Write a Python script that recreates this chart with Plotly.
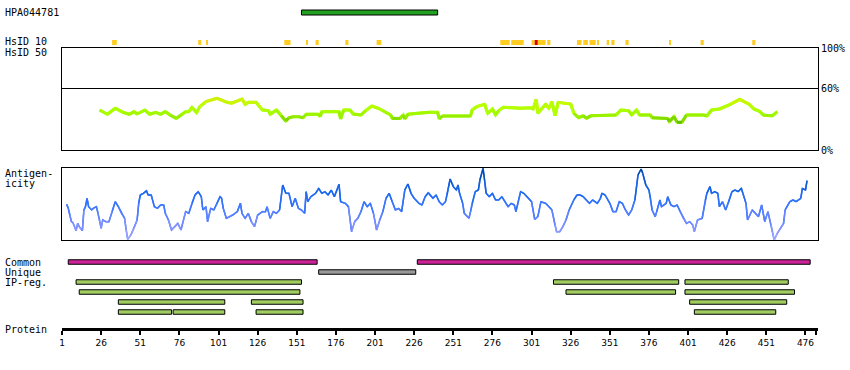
import plotly.graph_objects as go

# ---------------- data ----------------
protein_length = 483
tick_vals = [1, 26, 51, 76, 101, 126, 151, 176, 201, 226, 251, 276, 301, 326, 351, 376, 401, 426, 451, 476]

antibody_name = "HPA044781"
antibody_start = [154]
antibody_end = [241]

hsid10_start = [33, 88, 93, 143, 157, 163, 182, 202, 281, 288, 301, 303, 305, 311, 330, 334, 338, 343, 349, 352, 361, 389, 409, 442]
hsid10_end = [36, 90, 94, 147, 158, 165, 184, 205, 287, 296, 303, 305, 310, 313, 333, 337, 342, 344, 350.5, 354, 363, 390, 411, 444]
hsid10_level = ["y", "y", "y", "y", "y", "y", "y", "y", "y", "y", "y", "r", "y", "y", "y", "y", "y", "y", "y", "y", "y", "y", "y", "y"]

cons_pos = [25, 30, 35, 40, 44, 47, 49, 54, 57, 61,
            64, 67, 70, 74, 77, 80, 82, 84, 87, 89,
            93, 100, 103, 105, 109, 113, 116, 118, 120, 125,
            129, 133, 134, 138, 141, 144, 146, 149, 152, 155,
            157, 165, 166, 167, 178, 179, 181, 185, 187, 192,
            195, 199, 203, 206, 211, 212, 217, 219, 220, 222,
            228, 236, 241, 242, 244, 262, 263, 266, 271, 273,
            276, 278, 280, 283, 294, 300, 302, 304, 305, 310,
            312, 314, 316, 318, 326, 328, 331, 334, 336, 339,
            355, 358, 363, 365, 368, 370, 377, 378, 388, 389,
            392, 394, 397, 400, 411, 413, 416, 421, 428, 434,
            440, 443, 447, 449, 453, 455, 458]
cons_val = [39.2, 35.0, 40.9, 36.9, 35.0, 37.6, 35.3, 39.2, 35.0, 36.9,
            35.0, 37.6, 34.3, 31.0, 34.3, 37.6, 37.6, 41.8, 36.6, 42.5,
            47.4, 50.7, 49.0, 47.4, 45.8, 48.0, 50.0, 44.8, 46.7, 46.7,
            39.2, 38.6, 35.0, 39.2, 33.7, 28.4, 31.7, 32.7, 32.7, 31.7,
            35.0, 35.0, 32.7, 37.6, 37.6, 30.4, 39.2, 39.2, 35.3, 34.3,
            38.6, 43.1, 40.9, 38.6, 34.3, 31.0, 31.0, 34.3, 30.4, 35.0,
            36.0, 36.9, 36.9, 30.4, 33.3, 33.3, 39.2, 42.5, 44.8, 36.0,
            40.2, 34.3, 38.6, 41.8, 40.9, 41.5, 40.2, 49.7, 36.0, 44.8,
            40.9, 47.4, 33.7, 46.7, 45.1, 36.0, 31.7, 33.7, 31.0, 33.7,
            34.3, 39.2, 38.6, 34.3, 39.2, 34.3, 34.3, 31.7, 31.0, 27.8,
            32.7, 27.1, 27.1, 34.3, 34.3, 33.3, 39.2, 40.2, 44.8, 49.7,
            44.8, 40.2, 37.6, 34.3, 33.7, 33.7, 37.6]

antigen_pos = [4, 5, 6, 7, 8, 10, 11, 12, 14, 15,
               16, 17, 18, 20, 21, 23, 24, 25, 26, 27,
               29, 31, 33, 35, 37, 39, 41, 42, 43, 45,
               47, 49, 50, 51, 53, 55, 56, 58, 60, 62,
               64, 66, 67, 69, 71, 73, 75, 77, 80, 82,
               84, 86, 88, 90, 91, 93, 94, 96, 98, 100,
               102, 103, 104, 106, 108, 110, 113, 115, 116, 118,
               120, 122, 124, 126, 129, 131, 132, 134, 136, 138,
               140, 142, 144, 146, 148, 150, 152, 154, 156, 157,
               158, 160, 163, 165, 167, 169, 171, 173, 175, 178,
               179, 182, 184, 186, 188, 190, 192, 194, 196, 198,
               200, 202, 204, 206, 208, 210, 212, 214, 216, 218,
               220, 222, 224, 226, 229, 231, 233, 235, 238, 240,
               242, 244, 246, 247, 248, 249, 251, 253, 254, 255,
               257, 258, 261, 262, 263, 265, 267, 268, 270, 271,
               272, 274, 276, 278, 280, 282, 284, 286, 288, 290,
               291, 294, 296, 299, 301, 303, 305, 307, 310, 313,
               314, 316, 317, 319, 321, 323, 325, 328, 330, 332,
               334, 336, 338, 340, 343, 345, 346, 348, 351, 353,
               355, 357, 359, 361, 363, 365, 367, 369, 371, 372,
               374, 376, 377, 378, 380, 381, 383, 384, 387, 388,
               390, 392, 394, 396, 398, 400, 402, 404, 405, 407,
               410, 412, 413, 415, 416, 418, 420, 421, 423, 425,
               427, 429, 431, 433, 435, 436, 438, 439, 442, 444,
               446, 448, 450, 452, 454, 455, 456, 458, 460, 462,
               463, 466, 468, 470, 473, 474, 476, 477]
antigen_val = [49.5, 44.0, 34.7, 25.5, 24.1, 13.0, 23.1, 18.5, 13.0, 41.7,
               46.3, 57.9, 46.3, 41.7, 44.0, 46.3, 37.0, 27.8, 16.2, 27.8,
               25.5, 25.5, 39.4, 53.2, 46.3, 37.0, 30.1, 13.9, 0.9, 7.0,
               16.2, 27.8, 50.9, 62.5, 64.8, 68.5, 62.5, 62.5, 46.3, 44.0,
               48.6, 48.6, 37.0, 27.8, 13.9, 18.5, 23.1, 13.9, 39.4, 37.0,
               50.9, 62.5, 67.1, 60.2, 41.7, 46.3, 25.5, 44.0, 41.7, 50.9,
               60.2, 57.9, 44.0, 30.1, 32.4, 34.7, 39.4, 50.9, 37.0, 30.1,
               37.0, 25.5, 18.5, 34.7, 39.4, 39.4, 46.3, 30.1, 39.4, 37.0,
               41.7, 76.4, 64.8, 64.8, 46.3, 57.9, 44.0, 41.7, 37.0, 67.1,
               53.2, 60.2, 64.8, 71.8, 64.8, 67.1, 62.5, 69.4, 60.2, 77.3,
               53.2, 50.9, 46.3, 11.6, 25.5, 30.1, 39.4, 53.2, 46.3, 50.9,
               37.0, 13.9, 27.8, 39.4, 57.9, 64.8, 53.2, 41.7, 44.0, 39.4,
               69.4, 77.8, 64.8, 57.9, 50.9, 48.6, 60.2, 65.7, 57.9, 62.5,
               53.2, 48.6, 53.2, 62.5, 74.1, 84.7, 74.1, 69.4, 76.4, 64.8,
               50.9, 37.0, 30.1, 39.4, 50.9, 67.1, 69.4, 83.3, 99.5, 83.3,
               64.8, 60.2, 64.8, 55.6, 55.6, 60.2, 53.2, 46.3, 50.9, 48.6,
               39.4, 67.1, 64.8, 57.9, 53.2, 28.7, 32.4, 53.2, 50.9, 44.0,
               41.7, 20.8, 11.6, 11.6, 18.5, 27.8, 41.7, 55.6, 62.5, 62.5,
               60.2, 55.6, 50.9, 55.6, 50.9, 57.9, 64.8, 62.5, 50.9, 39.4,
               39.4, 53.2, 50.9, 41.7, 34.7, 41.7, 55.6, 90.3, 98.6, 92.6,
               76.4, 69.4, 57.9, 41.7, 32.4, 39.4, 55.6, 46.3, 50.9, 60.2,
               48.6, 46.3, 48.6, 39.4, 30.1, 23.1, 25.5, 20.8, 11.6, 27.8,
               30.1, 55.6, 64.8, 74.1, 64.8, 67.1, 64.8, 46.3, 53.2, 41.7,
               53.2, 67.1, 69.4, 67.1, 71.8, 64.8, 50.9, 27.8, 41.7, 37.0,
               32.4, 48.6, 25.5, 39.4, 20.8, 11.6, 0.0, 9.3, 16.2, 23.1,
               41.7, 53.2, 55.6, 53.2, 57.9, 71.8, 69.4, 82.4]

common_start = [5, 228]
common_end = [164, 479]
unique_start = [165]
unique_end = [227]
ipreg_start = [10, 315, 399, 12, 323, 399, 37, 122, 402, 37, 72, 125, 405]
ipreg_end = [154, 395, 465, 153, 393, 469, 105, 155, 464, 71, 105, 155, 457]
ipreg_lane = [0, 0, 0, 1, 1, 1, 2, 2, 2, 3, 3, 3, 3]

track_labels = ["HPA044781", "HsID 10", "HsID 50", "Antigen-", "icity", "Common", "Unique", "IP-reg.", "Protein"]

assert len(cons_pos) == len(cons_val)
assert len(antigen_pos) == len(antigen_val)

# ---------------- layout constants (pixels) ----------------
W, H = 850, 370
PX0, PX1 = 62, 818
ROW_AB = 12.5
ROW_HSID = 42.5
CONS_TOP, CONS_BOT = 48, 150
ANT_TOP, ANT_BOT = 168, 240
ROW_COMMON = 262
ROW_UNIQUE = 272
ROW_IP0 = 282
AXIS_Y = 329
label_y = [13, 42, 52, 173, 183, 262, 272, 282, 329]
FONT = "DejaVu Sans Mono"


def pf(p):
    return 1 - p / H


def ramp(v, stops):
    if v <= stops[0][0]:
        return stops[0][1]
    for i in range(len(stops) - 1):
        v0, c0 = stops[i]
        v1, c1 = stops[i + 1]
        if v <= v1:
            t = (v - v0) / (v1 - v0)
            return tuple(round(c0[k] + (c1[k] - c0[k]) * t) for k in range(3))
    return stops[-1][1]


def colored_segments(xs, ys, stops, q):
    groups = {}
    for i in range(len(xs) - 1):
        m = (ys[i] + ys[i + 1]) / 2
        key = round(m / q) * q
        c = "rgb(%d,%d,%d)" % ramp(key, stops)
        gx, gy = groups.setdefault(c, ([], []))
        gx += [xs[i], xs[i + 1], None]
        gy += [ys[i], ys[i + 1], None]
    return groups


cons_stops = [(27, (100, 190, 0)), (33, (150, 238, 0)), (38, (170, 255, 0)), (44, (190, 255, 0)), (50, (215, 238, 10))]
ant_stops = [(0, (175, 170, 255)), (25, (125, 140, 255)), (45, (65, 120, 255)), (65, (25, 105, 240)), (100, (0, 70, 160))]

fig = go.Figure()

# conservation line
fig.add_trace(go.Scatter(x=cons_pos, y=cons_val, mode="lines", xaxis="x2", yaxis="y",
                         line=dict(color="rgb(170,255,0)", width=3), hoverinfo="skip"))
for c, (gx, gy) in colored_segments(cons_pos, cons_val, cons_stops, 1).items():
    fig.add_trace(go.Scatter(x=gx, y=gy, mode="lines", xaxis="x2", yaxis="y",
                             line=dict(color=c, width=3), hoverinfo="skip"))

# antigenicity line
fig.add_trace(go.Scatter(x=antigen_pos, y=antigen_val, mode="lines", xaxis="x3", yaxis="y2",
                         line=dict(color="rgb(60,120,255)", width=1.5), hoverinfo="skip"))
for c, (gx, gy) in colored_segments(antigen_pos, antigen_val, ant_stops, 2).items():
    fig.add_trace(go.Scatter(x=gx, y=gy, mode="lines", xaxis="x3", yaxis="y2",
                             line=dict(color=c, width=1.5), hoverinfo="skip"))


def add_bars(starts, ends, rows, color, height, outline):
    fig.add_trace(go.Bar(orientation="h", base=starts, x=[e - s for s, e in zip(starts, ends)], y=rows,
                         width=height, xaxis="x", yaxis="y3",
                         marker=dict(color=color, line=dict(color="black", width=outline)),
                         hoverinfo="skip"))


add_bars(antibody_start, antibody_end, [ROW_AB] * len(antibody_start), "#22a022", 5, 1)
hs_col = ["#dd0000" if l == "r" else "#ffcc22" for l in hsid10_level]
add_bars(hsid10_start, hsid10_end, [ROW_HSID] * len(hsid10_start), hs_col, 5, 0)
add_bars(common_start, common_end, [ROW_COMMON] * len(common_start), "#cc2299", 4.5, 1)
add_bars(unique_start, unique_end, [ROW_UNIQUE] * len(unique_start), "#999999", 4.5, 1)
add_bars(ipreg_start, ipreg_end, [ROW_IP0 + 10 * l for l in ipreg_lane], "#a0cc60", 4.5, 1)

annotations = []
for t, y in zip(track_labels, label_y):
    annotations.append(dict(text=t, x=3 / W, y=pf(y), xref="paper", yref="paper", xanchor="left",
                            yanchor="middle", showarrow=False, font=dict(family=FONT, size=10, color="black")))

dom_x = [PX0 / W, PX1 / W]
fig.update_layout(
    width=W, height=H, autosize=False, margin=dict(l=0, r=0, t=0, b=0, pad=0, autoexpand=False),
    paper_bgcolor="white", plot_bgcolor="rgba(0,0,0,0)", showlegend=False, barmode="overlay",
    annotations=annotations,
    xaxis=dict(domain=dom_x, range=[1, 484], anchor="free", position=pf(AXIS_Y),
               showline=True, linewidth=3, linecolor="black", ticks="outside", ticklen=4, tickwidth=2,
               tickcolor="black", tickvals=tick_vals + [protein_length],
               ticktext=[str(v) for v in tick_vals] + [""],
               tickfont=dict(family="DejaVu Sans", size=9, color="black"),
               showgrid=False, zeroline=False, fixedrange=True, automargin=False),
    yaxis3=dict(domain=[0, 1], range=[H, 0], visible=False, anchor="x", fixedrange=True, automargin=False),
    xaxis2=dict(domain=dom_x, matches="x", anchor="y", showline=True, mirror=True, linecolor="black",
                linewidth=1, showticklabels=False, ticks="", showgrid=False, zeroline=False, automargin=False),
    yaxis=dict(domain=[pf(CONS_BOT), pf(CONS_TOP)], range=[0, 100], anchor="x2", side="right",
               showline=True, mirror=True, linecolor="black", linewidth=1, ticks="",
               tickvals=[0, 60, 100], ticktext=["0%", "60%", "100%"],
               tickfont=dict(family=FONT, size=10, color="black"),
               showgrid=True, gridcolor="black", gridwidth=1, zeroline=False, fixedrange=True, automargin=False),
    xaxis3=dict(domain=dom_x, matches="x", anchor="y2", showline=True, mirror=True, linecolor="black",
                linewidth=1, showticklabels=False, ticks="", showgrid=False, zeroline=False, automargin=False),
    yaxis2=dict(domain=[pf(ANT_BOT), pf(ANT_TOP)], range=[0, 100], anchor="x3",
                showline=True, mirror=True, linecolor="black", linewidth=1, ticks="",
                showticklabels=False, showgrid=False, zeroline=False, fixedrange=True, automargin=False),
)

fig.write_html("out.html", config={"responsive": False, "displayModeBar": False},
               post_script="document.body.style.margin='0';document.body.style.overflow='hidden';")
